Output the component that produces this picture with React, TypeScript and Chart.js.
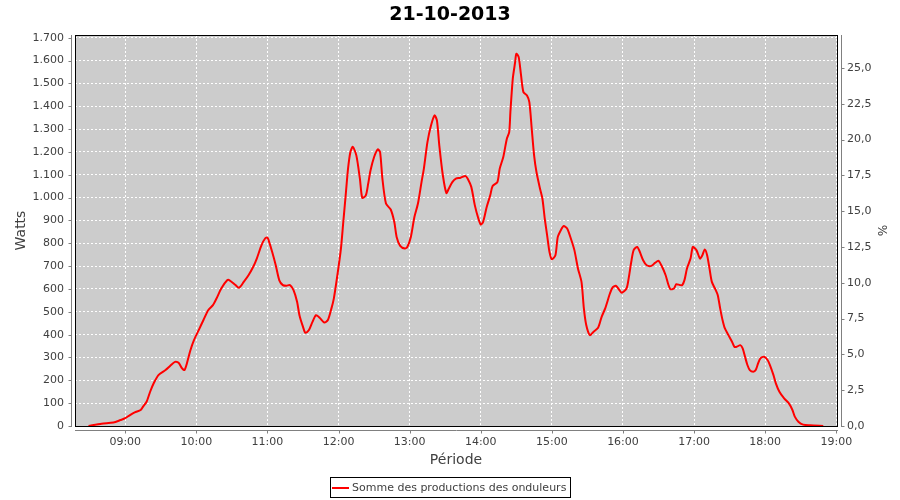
import React, { useEffect, useRef } from 'react';
import { Chart, registerables } from 'chart.js';

Chart.register(...registerables);

const chartTitle = '21-10-2013';
const seriesLabel = 'Somme des productions des onduleurs';
const xAxisTitle = 'Période';
const yAxisTitle = 'Watts';
const y2AxisTitle = '%';

const hourTickLabels = ['09:00', '10:00', '11:00', '12:00', '13:00', '14:00', '15:00', '16:00', '17:00', '18:00', '19:00'];
const wattTicks = [0, 100, 200, 300, 400, 500, 600, 700, 800, 900, 1000, 1100, 1200, 1300, 1400, 1500, 1600, 1700];
const percentTicks = [0, 2.5, 5, 7.5, 10, 12.5, 15, 17.5, 20, 22.5, 25];

// time in minutes since midnight
const timeMinutes = [
  509, 520, 530, 536, 540, 544, 548, 553, 555, 558, 561, 564, 568, 574, 578, 582, 585, 588, 590, 592,
  595, 598, 602, 606, 610, 614, 617, 621, 626, 628, 633, 636, 640, 644, 648, 651, 655, 658, 660, 661,
  664, 667, 670, 673, 676, 679, 682, 685, 687, 690, 692, 695, 698, 701, 704, 708, 711, 714, 716, 719,
  722, 724, 726, 728, 730, 732, 735, 738, 740, 743, 745, 747, 750, 753, 755, 757, 760, 764, 767, 769,
  772, 776, 778, 781, 784, 787, 790, 792, 795, 798, 801, 803, 805, 808, 811, 813, 816, 819, 823, 827,
  829, 832, 835, 838, 840, 842, 845, 848, 850, 854, 856, 859, 862, 864, 865, 867, 869, 870, 872, 874,
  876, 879, 881, 883, 885, 887, 890, 892, 894, 896, 898, 900, 903, 905, 908, 910, 913, 916, 919, 922,
  925, 927, 929, 932, 935, 939, 942, 945, 949, 951, 954, 957, 959, 963, 965, 967, 969, 972, 974, 977,
  980, 984, 987, 990, 993, 996, 998, 1000, 1003, 1005, 1008, 1010, 1012, 1014, 1017, 1019, 1022, 1025, 1027, 1029,
  1031, 1033, 1035, 1038, 1040, 1042, 1044, 1046, 1049, 1052, 1054, 1056, 1059, 1061, 1063, 1065, 1067, 1070, 1072, 1074,
  1076, 1079, 1082, 1084, 1087, 1089, 1092, 1096, 1100, 1103, 1105, 1108, 1112, 1118, 1129,
];

const watts = [
  0, 10, 15, 26, 34, 48, 60, 70, 85, 106, 150, 187, 223, 245, 264, 281, 277, 252, 245, 274,
  332, 376, 420, 464, 507, 529, 558, 602, 638, 638, 617, 605, 631, 660, 697, 733, 792, 821, 825, 813,
  762, 704, 638, 617, 614, 617, 595, 544, 485, 434, 408, 420, 456, 485, 474, 453, 464, 515, 558, 660,
  777, 894, 1010, 1127, 1200, 1222, 1185, 1083, 999, 1010, 1061, 1120, 1178, 1211, 1200, 1083, 974, 948, 894, 828,
  789, 777, 784, 828, 915, 974, 1068, 1127, 1243, 1316, 1360, 1338, 1229, 1098, 1020, 1039, 1068, 1083, 1087, 1095,
  1083, 1047, 966, 908, 882, 894, 959, 1010, 1051, 1068, 1127, 1178, 1258, 1287, 1375, 1520, 1593, 1630, 1615, 1535,
  1462, 1447, 1418, 1302, 1185, 1112, 1039, 996, 908, 835, 762, 730, 748, 828, 862, 876, 864, 821, 770, 690,
  631, 515, 442, 398, 412, 430, 478, 515, 580, 605, 614, 595, 583, 602, 653, 719, 770, 784, 765, 726,
  704, 701, 714, 723, 697, 660, 624, 599, 602, 621, 617, 617, 641, 690, 733, 784, 770, 733, 748, 773,
  748, 690, 631, 598, 573, 515, 464, 427, 398, 369, 347, 347, 354, 340, 303, 267, 245, 238, 245, 274,
  296, 303, 289, 267, 223, 187, 150, 121, 99, 70, 41, 19, 6, 3, 0,
];

const X_MIN = 497.6;
const X_MAX = 1140.6;
const WATT_MAX = 1712;
const PERCENT_MAX = 27.3;

const FONT = "'DejaVu Sans', sans-serif";
const TEXT_COLOR = '#404040';
const AXIS_COLOR = '#808080';

const toMinutes = (s: string) => {
  const [h, m] = s.split(':').map(Number);
  return h * 60 + m;
};
const fmtWatt = (v: number) =>
  v >= 1000 ? `${Math.floor(v / 1000)}.${String(v % 1000).padStart(3, '0')}` : String(v);
const fmtPercent = (v: number) => v.toFixed(1).replace('.', ',');

export default function App() {
  const ref = useRef<HTMLCanvasElement>(null);

  useEffect(() => {
    const canvas = ref.current;
    if (!canvas) return;
    Chart.defaults.font.family = FONT;

    const decoPlugin = {
      id: 'decoPlugin',
      beforeDraw(chart: any) {
        const { ctx, chartArea: a } = chart;
        ctx.save();
        ctx.fillStyle = '#cccccc';
        ctx.fillRect(a.left, a.top, a.right - a.left, a.bottom - a.top);
        ctx.restore();
      },
      beforeDatasetsDraw(chart: any) {
        const { ctx, chartArea: a } = chart;
        ctx.save();
        ctx.strokeStyle = '#000000';
        ctx.lineWidth = 1;
        ctx.strokeRect(Math.round(a.left) + 0.5, Math.round(a.top) + 0.5, Math.round(a.right - a.left), Math.round(a.bottom - a.top));
        ctx.restore();
      },
      afterDraw(chart: any) {
        const { ctx, chartArea: a, scales } = chart;
        ctx.save();
        ctx.strokeStyle = AXIS_COLOR;
        ctx.lineWidth = 1;
        // left axis
        const lx = Math.round(a.left) - 4 + 0.5;
        ctx.beginPath();
        ctx.moveTo(lx, a.top);
        ctx.lineTo(lx, a.bottom + 1);
        wattTicks.forEach((v) => {
          const y = Math.round(scales.y.getPixelForValue(v)) + 0.5;
          ctx.moveTo(lx - 3, y);
          ctx.lineTo(lx, y);
        });
        // right axis
        const rx = Math.round(a.right) + 4 + 0.5;
        ctx.moveTo(rx, a.top);
        ctx.lineTo(rx, a.bottom + 1);
        percentTicks.forEach((v) => {
          const y = Math.round(scales.y1.getPixelForValue(v)) + 0.5;
          ctx.moveTo(rx, y);
          ctx.lineTo(rx + 3, y);
        });
        // bottom axis
        const by = Math.round(a.bottom) + 4 + 0.5;
        ctx.moveTo(a.left, by);
        ctx.lineTo(a.right + 1, by);
        hourTickLabels.forEach((l) => {
          const x = Math.round(scales.x.getPixelForValue(toMinutes(l))) + 0.5;
          ctx.moveTo(x, by);
          ctx.lineTo(x, by + 3);
        });
        ctx.stroke();

        // legend
        ctx.font = `11px ${FONT}`;
        const tw = ctx.measureText(seriesLabel).width;
        const boxW = Math.round(tw + 26);
        const boxH = 21;
        const boxL = Math.round((chart.width - boxW) / 2);
        const boxT = 477;
        ctx.strokeStyle = '#000000';
        ctx.strokeRect(boxL + 0.5, boxT + 0.5, boxW, boxH - 1);
        ctx.strokeStyle = '#ff0000';
        ctx.lineWidth = 2;
        ctx.beginPath();
        ctx.moveTo(boxL + 2, boxT + 11);
        ctx.lineTo(boxL + 19, boxT + 11);
        ctx.stroke();
        ctx.fillStyle = TEXT_COLOR;
        ctx.textBaseline = 'middle';
        ctx.textAlign = 'left';
        ctx.fillText(seriesLabel, boxL + 22, boxT + 11.5);
        ctx.restore();
      },
    };

    const points = timeMinutes.map((t, i) => ({ x: t, y: watts[i] }));

    const chart = new Chart(canvas, {
      type: 'line',
      data: {
        datasets: [
          {
            label: seriesLabel,
            data: points,
            borderColor: '#ff0000',
            backgroundColor: '#ff0000',
            borderWidth: 2,
            pointRadius: 0,
            tension: 0.25,
            yAxisID: 'y',
          },
        ],
      },
      options: {
        responsive: false,
        animation: false,
        devicePixelRatio: 1,
        layout: { padding: { top: 0, left: 0, right: 0, bottom: 24 } },
        plugins: {
          legend: { display: false },
          tooltip: { enabled: false },
          title: {
            display: true,
            text: chartTitle,
            color: '#000000',
            font: { family: FONT, size: 19, weight: 'bold' },
            padding: { top: 3.6, bottom: 8.6 },
          },
        },
        scales: {
          x: {
            type: 'linear',
            min: X_MIN,
            max: X_MAX,
            afterBuildTicks: (s: any) => {
              s.ticks = hourTickLabels.map((l) => ({ value: toMinutes(l) }));
            },
            afterFit: (s: any) => {
              s.height = 50;
            },
            ticks: {
              callback: (_v: any, i: number) => hourTickLabels[i],
              color: TEXT_COLOR,
              font: { size: 11 },
              padding: 10,
              maxRotation: 0,
              autoSkip: false,
            },
            grid: { color: '#ffffff', lineWidth: 1, drawTicks: false },
            border: { display: false, dash: [2, 2] },
            title: {
              display: true,
              text: xAxisTitle,
              color: TEXT_COLOR,
              font: { size: 14 },
              padding: { top: 0, bottom: 7.6 },
            },
          },
          y: {
            type: 'linear',
            position: 'left',
            min: 0,
            max: WATT_MAX,
            afterBuildTicks: (s: any) => {
              s.ticks = wattTicks.map((v) => ({ value: v }));
            },
            afterFit: (s: any) => {
              s.width = 75;
            },
            ticks: {
              callback: (v: any) => fmtWatt(Number(v)),
              color: TEXT_COLOR,
              font: { size: 11 },
              padding: 11,
            },
            grid: { color: '#ffffff', lineWidth: 1, drawTicks: false },
            border: { display: false, dash: [2, 2] },
            title: {
              display: true,
              text: yAxisTitle,
              color: TEXT_COLOR,
              font: { size: 14 },
              padding: { top: 12.6, bottom: 0 },
            },
          },
          y1: {
            type: 'linear',
            position: 'right',
            min: 0,
            max: PERCENT_MAX,
            afterBuildTicks: (s: any) => {
              s.ticks = percentTicks.map((v) => ({ value: v }));
            },
            afterFit: (s: any) => {
              s.width = 63;
            },
            ticks: {
              callback: (v: any) => fmtPercent(Number(v)),
              color: TEXT_COLOR,
              font: { size: 11 },
              padding: 10,
            },
            grid: { display: false, drawTicks: false },
            border: { display: false },
            title: {
              display: true,
              text: y2AxisTitle,
              color: TEXT_COLOR,
              font: { size: 12 },
              padding: { top: 11.8, bottom: 0 },
            },
          },
        },
      },
      plugins: [decoPlugin],
    } as any);

    return () => chart.destroy();
  }, []);

  return (
    <div style={{ position: 'absolute', left: 0, top: 0, width: 900, height: 500, background: '#ffffff' }}>
      <canvas ref={ref} width={900} height={500} style={{ display: 'block' }} />
    </div>
  );
}
